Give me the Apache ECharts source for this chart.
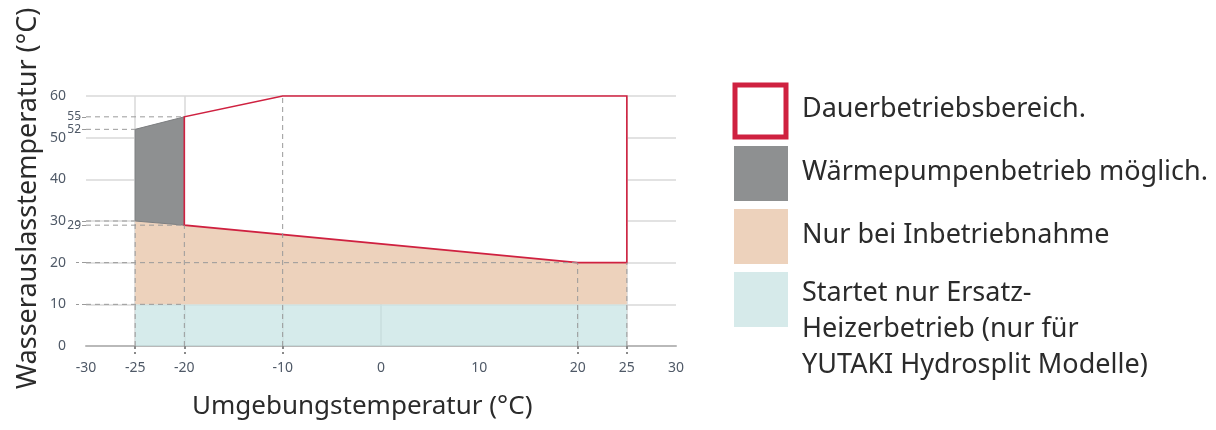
<!DOCTYPE html>
<html>
<head>
<meta charset="utf-8">
<script src="https://cdn.jsdelivr.net/npm/echarts@6/dist/echarts.min.js"></script>
<style>
  html, body { margin: 0; padding: 0; background: #fff; }
  #main { width: 1216px; height: 430px; }
</style>
</head>
<body>
<div id="main"></div>
<script>
// Einsatzgrenzen (Umgebung °C / Wasseraustritt °C)
const envelopeX = [-20, -20, -10, 25, 25, 20]
const envelopeY = [29, 55, 60, 60, 20, 20]
const pumpX = [-25, -25, -20, -20]
const pumpY = [30, 52, 55, 29]
const startupX = [-25, -25, -20, 20, 25, 25]
const startupY = [10, 30, 29, 20, 20, 10]
const heaterX = [-25, -25, 25, 25]
const heaterY = [0, 10, 10, 0]

// Hilfslinien [x1, y1, x2, y2]
const guideSegments = [
  [-30, 55, -20, 55],
  [-30, 52, -25, 52],
  [-30, 30, -25, 30],
  [-30, 29, -20, 29],
  [-30, 20, 20, 20],
  [-30, 10, -20, 10],
  [-25, 0, -25, 30],
  [-20, 0, -20, 29],
  [-10, 0, -10, 60],
  [20, 0, 20, 20],
  [25, 0, 25, 20]
]

const xLabels = [-30, -25, -20, -10, 0, 10, 20, 25, 30]
const xTicks = [-25, -20, -10, 20, 25]
const yExtraLabels = [29, 52, 55]
const yTicks = [10, 20, 29, 30, 52, 55]

const legendNames = [
  'Dauerbetriebsbereich.',
  'Wärmepumpenbetrieb möglich.',
  'Nur bei Inbetriebnahme',
  'Startet nur Ersatz-\nHeizerbetrieb (nur für\nYUTAKI Hydrosplit Modelle)'
]
const legendColors = ['#ffffff', '#8e9091', '#edd2bc', '#d6eaea']

const FONT = '"Noto Sans"'
const RED = '#cf2140'

function polygonSeries (name, xs, ys, style, z) {
  const pts = xs.map((x, i) => [x, ys[i]])
  return {
    type: 'custom',
    name: name,
    z: z,
    silent: true,
    data: pts,
    renderItem (params, api) {
      if (params.dataIndex !== 0) return
      return {
        type: 'polygon',
        shape: { points: pts.map(p => api.coord(p)) },
        style: style
      }
    }
  }
}

const chart = echarts.init(document.getElementById('main'))

// Legende als Grafik
const legendGraphics = []
legendNames.forEach((name, i) => {
  const top = 83 + i * 63
  if (i === 0) {
    legendGraphics.push({
      type: 'rect',
      shape: { x: 735, y: top + 2, width: 51, height: 52 },
      style: { fill: '#fff', stroke: RED, lineWidth: 5 }
    })
  } else {
    legendGraphics.push({
      type: 'rect',
      shape: { x: 734, y: top, width: 54, height: 55 },
      style: { fill: legendColors[i] }
    })
  }
  legendGraphics.push({
    type: 'text',
    left: 802,
    top: i === 3 ? 275 : top + 8,
    style: {
      text: name,
      font: '27px ' + FONT,
      fill: '#2b2b2b',
      lineHeight: 36
    }
  })
})

const option = {
  animation: false,
  grid: { left: 86, right: 540, top: 96, bottom: 84 },
  graphic: [
    {
      type: 'text',
      left: 192,
      top: 394,
      style: { text: 'Umgebungstemperatur (°C)', font: '26px ' + FONT, fill: '#2b2b2b' }
    },
    {
      type: 'text',
      x: 15,
      y: 389,
      rotation: Math.PI / 2,
      style: { text: 'Wasserauslasstemperatur (°C)', font: '27px ' + FONT, fill: '#2b2b2b' }
    }
  ].concat(legendGraphics),
  xAxis: {
    type: 'value',
    min: -30,
    max: 30,
    interval: 10,
    axisLine: { lineStyle: { color: '#b9b9b9', width: 2 } },
    axisTick: {
      show: true,
      customValues: xTicks,
      length: 8,
      lineStyle: { color: '#8a8a8a', type: [3, 3], width: 2 }
    },
    axisLabel: {
      customValues: xLabels,
      margin: 15,
      fontSize: 14,
      fontFamily: FONT,
      color: '#4f5967'
    },
    splitLine: { show: true, lineStyle: { color: '#d8d8d8', width: 1.5 } }
  },
  yAxis: [
    {
      type: 'value',
      min: 0,
      max: 60,
      interval: 10,
      axisLine: { show: true, lineStyle: { color: '#d6d6d6', width: 2 } },
      axisTick: { show: false },
      axisLabel: { margin: 20, fontSize: 14, fontFamily: FONT, color: '#4f5967' },
      splitLine: { show: true, lineStyle: { color: '#d8d8d8', width: 1.5 } }
    },
    {
      type: 'value',
      min: 0,
      max: 60,
      position: 'left',
      axisLine: { show: false },
      axisTick: {
        show: true,
        customValues: yTicks,
        length: 10,
        lineStyle: { color: '#9a9a9a', type: [4, 3] }
      },
      axisLabel: {
        customValues: yExtraLabels,
        margin: 5,
        fontSize: 12,
        fontFamily: FONT,
        color: '#4f5967'
      },
      splitLine: { show: false }
    }
  ],
  series: [
    polygonSeries('Startet nur Ersatz-Heizerbetrieb', heaterX, heaterY,
      { fill: 'rgba(200, 228, 228, 0.75)' }, 1),
    polygonSeries('Nur bei Inbetriebnahme', startupX, startupY,
      { fill: '#edd2bc' }, 2),
    polygonSeries('Wärmepumpenbetrieb möglich.', pumpX, pumpY,
      { fill: '#8e9091', stroke: '#7c7e80', lineWidth: 1 }, 3),
    polygonSeries('Dauerbetriebsbereich.', envelopeX, envelopeY,
      { fill: '#ffffff', stroke: RED, lineWidth: 1.6 }, 4),
    {
      type: 'custom',
      name: 'Hilfslinien',
      z: 5,
      silent: true,
      data: guideSegments,
      encode: { x: [0, 2], y: [1, 3] },
      renderItem (params, api) {
        const a = api.coord([api.value(0), api.value(1)])
        const b = api.coord([api.value(2), api.value(3)])
        return {
          type: 'line',
          shape: { x1: a[0], y1: a[1], x2: b[0], y2: b[1] },
          style: { stroke: '#9a9a9a', lineWidth: 1, lineDash: [5, 4] }
        }
      }
    }
  ]
}

chart.setOption(option)
</script>
</body>
</html>
